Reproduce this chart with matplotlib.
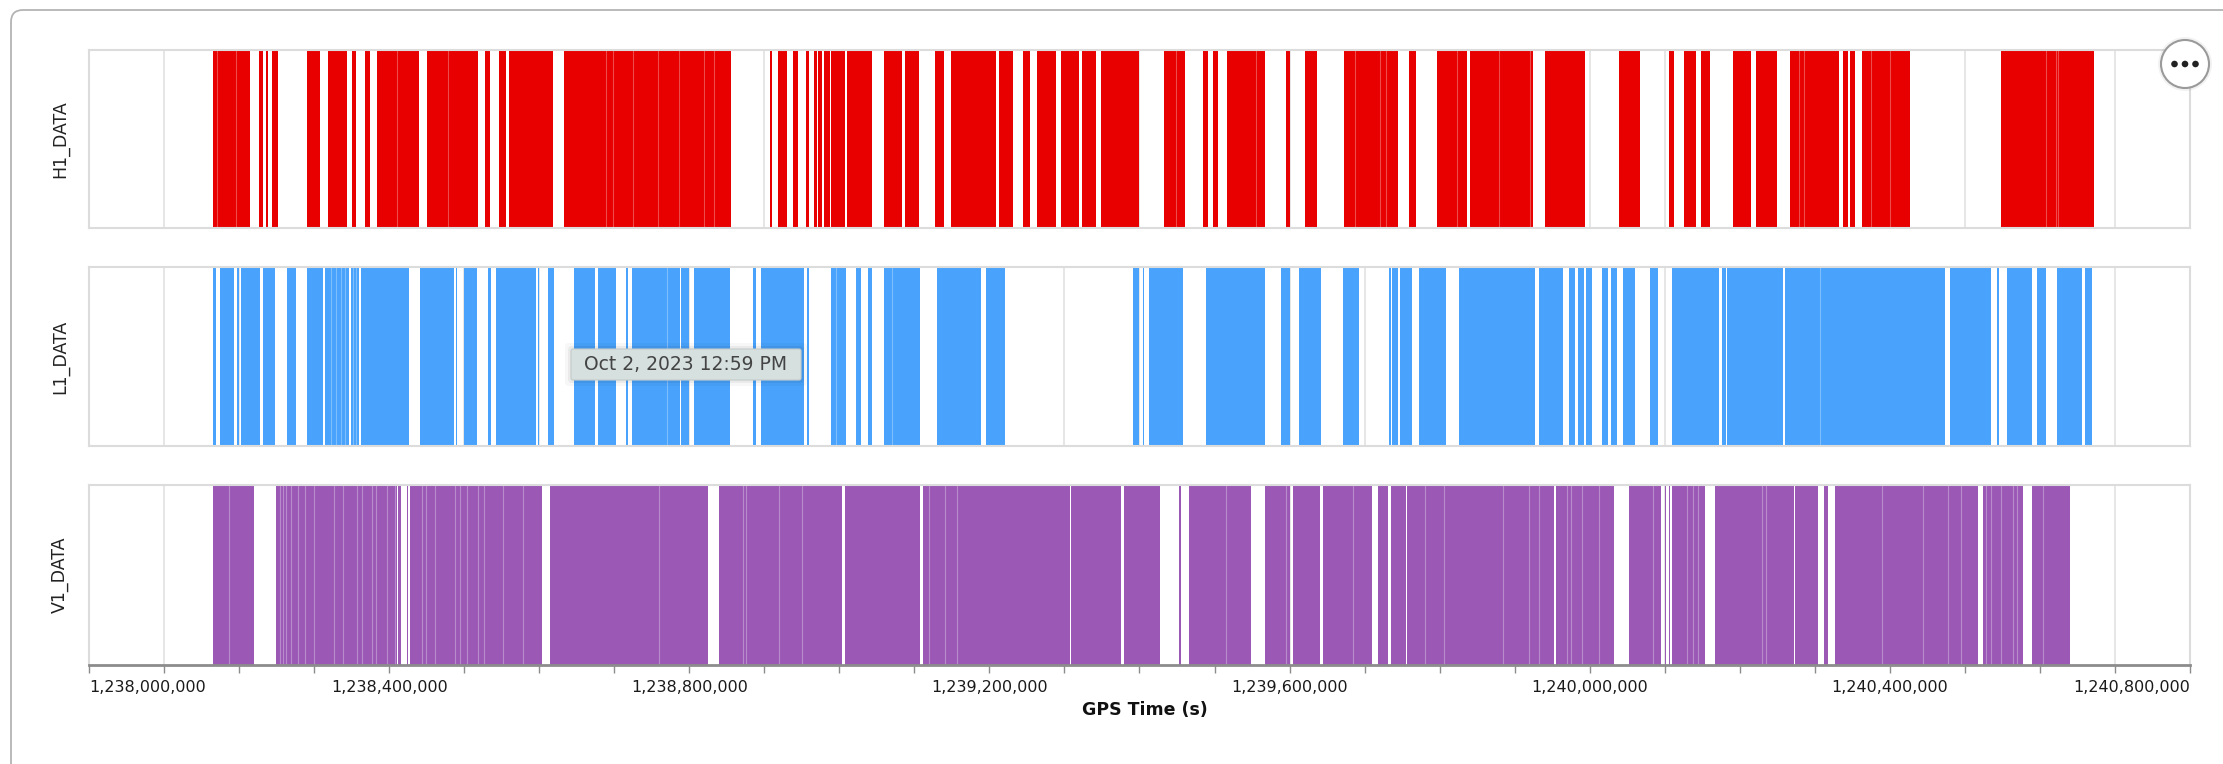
import matplotlib
matplotlib.use("Agg")
import matplotlib.pyplot as plt
from matplotlib.patches import Circle, FancyBboxPatch
from matplotlib.transforms import IdentityTransform

GPS_START = 1_238_000_000
GPS_END = 1_240_800_000

detectors = ["H1_DATA", "L1_DATA", "V1_DATA"]
colors = ["#e80000", "#49a3fc", "#9b59b5"]

# Segments in thousands of seconds after GPS_START.
# Each inner list is a run of back-to-back segments, given by its boundaries.
h1_runs = [
    [165, 170, 196, 214], [227, 232], [236, 239], [244, 252], [290, 308],
    [318, 344], [351, 356], [368, 374], [384, 411, 440], [450, 479, 519],
    [528, 535], [546, 556], [560, 619],
    [633, 689, 698, 725, 758, 786, 819, 833, 856],
    [907, 910], [918, 930], [938, 945], [955, 959], [966, 970], [972, 977],
    [980, 987], [989, 995], [996, 1007], [1010, 1044], [1060, 1084],
    [1088, 1106], [1127, 1140], [1149, 1209], [1213, 1232], [1245, 1254],
    [1263, 1289], [1296, 1319], [1323, 1342], [1349, 1399],
    [1432, 1448, 1461], [1484, 1491], [1498, 1504], [1516, 1555, 1567],
    [1595, 1600], [1620, 1637], [1672, 1687, 1721, 1728, 1744], [1759, 1769],
    [1796, 1823, 1837], [1841, 1879, 1920, 1924], [1941, 1994], [2039, 2067],
    [2106, 2112], [2126, 2142], [2148, 2160], [2191, 2215], [2221, 2250],
    [2267, 2279, 2286, 2332], [2338, 2344], [2347, 2354],
    [2363, 2375, 2400, 2427], [2548, 2608, 2621, 2624, 2672],
]

l1_runs = [
    [165, 169], [175, 193], [197, 200], [202, 228], [232, 248], [264, 276],
    [291, 312], [315, 322, 329, 336, 341, 346], [349, 352, 356, 360],
    [363, 426], [441, 487], [489, 491], [500, 517], [532, 536], [543, 596],
    [598, 600], [612, 620], [646, 675], [678, 702], [715, 718],
    [724, 770, 787], [789, 799], [806, 854], [885, 889], [896, 953],
    [957, 960], [989, 996, 1009], [1022, 1029], [1038, 1044],
    [1060, 1070, 1107], [1130, 1189], [1196, 1221], [1392, 1399],
    [1404, 1406], [1412, 1458], [1488, 1567], [1588, 1600], [1612, 1642],
    [1671, 1692], [1732, 1735], [1737, 1744], [1747, 1763], [1772, 1808],
    [1826, 1927], [1932, 1964], [1972, 1981], [1984, 1992], [1995, 2003],
    [2016, 2025], [2029, 2037], [2044, 2061], [2081, 2091], [2110, 2172],
    [2176, 2181], [2183, 2258], [2260, 2307, 2474], [2480, 2535],
    [2543, 2546], [2556, 2589], [2596, 2608], [2623, 2656], [2660, 2669],
]

v1_runs = [
    [165, 186, 220],
    [249, 254, 258, 263, 269, 279, 288, 300, 326, 338, 357, 364, 377, 383,
     397, 408, 411],
    [412, 416], [424, 425],
    [428, 444, 449, 461, 488, 494, 504, 518, 526, 552, 578, 604],
    [614, 759, 825], [840, 872, 876, 919, 950, 1003], [1008, 1108],
    [1112, 1119, 1141, 1157, 1307], [1309, 1375], [1379, 1427],
    [1453, 1455], [1466, 1515, 1549], [1567, 1595, 1601], [1605, 1641],
    [1644, 1684, 1710], [1718, 1731], [1735, 1755],
    [1756, 1781, 1806, 1884, 1919, 1932, 1952],
    [1955, 1970, 1975, 1990, 2012, 2032], [2052, 2084, 2095],
    [2100, 2101], [2106, 2107], [2110, 2130, 2137, 2144, 2154],
    [2167, 2230, 2235, 2272], [2274, 2304], [2312, 2318],
    [2327, 2390, 2444, 2478, 2495, 2517],
    [2524, 2528, 2535, 2548, 2564, 2570, 2577], [2589, 2604, 2640],
]

all_runs = [h1_runs, l1_runs, v1_runs]

W, H = 2223, 764
fig = plt.figure(figsize=(W / 100, H / 100), dpi=100)

# panel boxes in pixels: left, right, top, bottom
px_left, px_right = 89, 2190
panel_rows = [(50, 228), (267, 446), (485, 665)]

ticks = list(range(GPS_START, GPS_END + 1, 100_000))
tick_labels = [f"{t:,}" if (t - GPS_START) % 400_000 == 0 else "" for t in ticks]

for i, (name, color, runs) in enumerate(zip(detectors, colors, all_runs)):
    top, bottom = panel_rows[i]
    ax = fig.add_axes([px_left / W, 1 - bottom / H,
                       (px_right - px_left) / W, (bottom - top) / H])
    for run in runs:
        edges = [GPS_START + 1000 * v for v in run]
        spans = [(a, b - a) for a, b in zip(edges[:-1], edges[1:])]
        ax.broken_barh(spans, (0, 1), facecolors=color, linewidth=0)
        # faint seams between adjoining segments
        if len(edges) > 2:
            ax.vlines(edges[1:-1], 0, 1, colors="white", alpha=0.3,
                      linewidth=0.8)
    ax.set_xlim(GPS_START, GPS_END)
    ax.set_ylim(0, 1)
    ax.set_yticks([])
    ax.set_xticks(ticks)
    ax.grid(axis="x", color="#e2e2e2", linewidth=1.2)
    ax.set_axisbelow(True)
    for sp in ax.spines.values():
        sp.set_color("#dcdcdc")
        sp.set_linewidth(1.5)
    fig.text(60 / W, 1 - (top + bottom) / 2 / H, name, rotation=90,
             ha="center", va="center", fontsize=12.5, color="#222222")

    if i < 2:
        ax.tick_params(axis="x", length=0, labelbottom=False)
    else:
        ax.set_xticklabels(tick_labels)
        ax.spines["bottom"].set_color("#8c8c8c")
        ax.spines["bottom"].set_linewidth(2)
        ax.tick_params(axis="x", length=6, width=1, color="#8c8c8c",
                       labelsize=11.5, labelcolor="#1a1a1a", pad=5)
        labels = ax.get_xticklabels()
        labels[0].set_ha("left")
        labels[-1].set_ha("right")

fig.text(1145 / W, 1 - 710 / H, "GPS Time (s)", ha="center", va="center",
         fontsize=12.5, fontweight="bold", color="#111111")

px = IdentityTransform()

# card outline
fig.add_artist(FancyBboxPatch((11, -60), 2400, 814,
                              boxstyle="round,pad=0,rounding_size=12",
                              transform=px, facecolor="none",
                              edgecolor="#b4b4b4", linewidth=1.3))

# hover tooltip
for grow, a in [(6, 0.03), (3, 0.05)]:
    fig.add_artist(FancyBboxPatch((571 - grow, 384 - grow), 230 + 2 * grow,
                                  31 + 2 * grow, boxstyle="round,pad=0,rounding_size=4",
                                  transform=px, facecolor="black", alpha=a,
                                  linewidth=0))
fig.add_artist(FancyBboxPatch((571, 384), 230, 31,
                              boxstyle="round,pad=0,rounding_size=2",
                              transform=px, facecolor="#d6e0df",
                              edgecolor="#c3cccb", linewidth=0.8))
fig.text(686 / W, 1 - 364.5 / H, "Oct 2, 2023 12:59 PM", ha="center",
         va="center", fontsize=13.5, color="#444444")

# menu button
fig.add_artist(Circle((2185, 700), 27, transform=px, facecolor="black",
                      alpha=0.05, linewidth=0))
fig.add_artist(Circle((2185, 700), 24, transform=px, facecolor="white",
                      edgecolor="#9a9a9a", linewidth=1.5))
for dx in (-10.5, 0, 10.5):
    fig.add_artist(Circle((2185 + dx, 700), 3.3, transform=px,
                          facecolor="#222222", linewidth=0))

fig.savefig("out.png", dpi=100)
